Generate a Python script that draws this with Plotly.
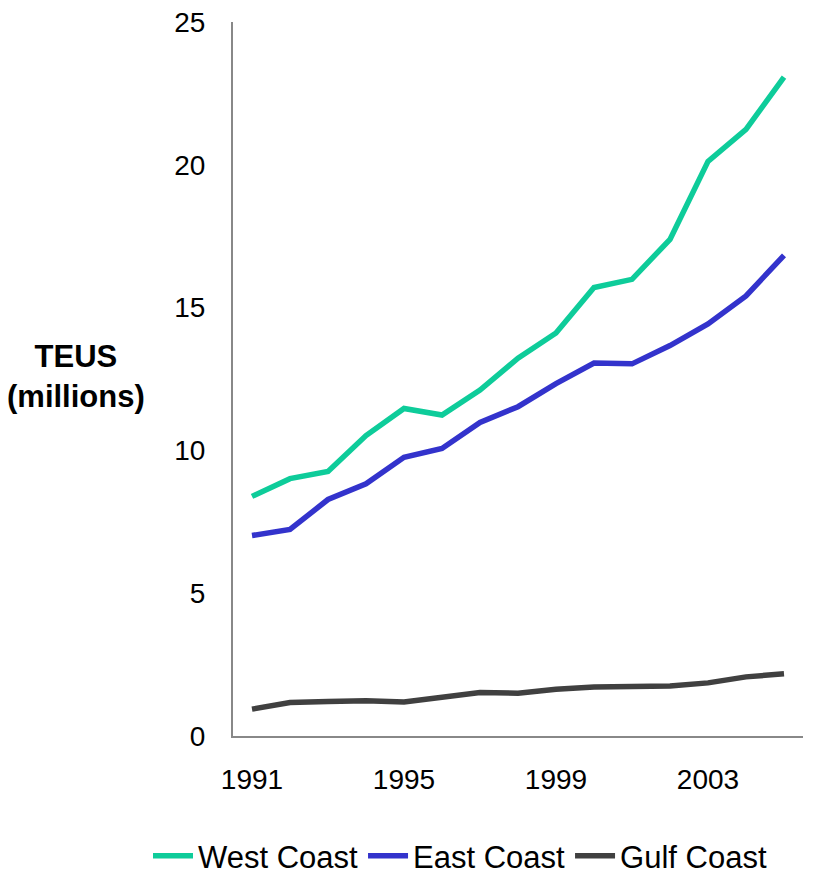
import plotly.graph_objects as go

years = list(range(1991, 2006))
west_coast = [8.39, 9.01, 9.26, 10.52, 11.47, 11.24, 12.11, 13.23, 14.11, 15.70, 15.99, 17.39, 20.12, 21.24, 23.07]
east_coast = [7.02, 7.23, 8.28, 8.83, 9.76, 10.07, 10.98, 11.53, 12.34, 13.06, 13.03, 13.67, 14.43, 15.41, 16.83]
gulf_coast = [0.94, 1.17, 1.21, 1.23, 1.19, 1.37, 1.52, 1.50, 1.64, 1.72, 1.74, 1.75, 1.86, 2.07, 2.18]
x_ticks = [1991, 1995, 1999, 2003]
y_ticks = [0, 5, 10, 15, 20, 25]

series = [("West Coast", west_coast, "#0ecc9a"),
          ("East Coast", east_coast, "#3333cc"),
          ("Gulf Coast", gulf_coast, "#404040")]

fig = go.Figure()
for name, vals, color in series:
    fig.add_trace(go.Scatter(x=years, y=vals, name=name, mode="lines",
                             line=dict(color=color, width=5.5)))

font = "Liberation Sans, Arial, sans-serif"
L, T, W, H = 225, 14, 570, 714
fig.update_layout(
    width=832, height=879,
    margin=dict(l=L, r=832 - L - W, t=T, b=879 - T - H, autoexpand=False),
    plot_bgcolor="white", paper_bgcolor="white",
    font=dict(family=font, size=28, color="black"),
    showlegend=True,
    legend=dict(orientation="h", x=(140 - L) / W, xanchor="left",
                y=(T + H - 848) / H, yanchor="middle",
                font=dict(size=31), itemwidth=40, tracegroupgap=0),
    xaxis=dict(range=[1990.5, 2005.5], tickvals=x_ticks, showgrid=False,
               showline=True, linecolor="#888888", linewidth=2, ticks="",
               ticklabelstandoff=17, zeroline=False, automargin=False,
               ticklabeloverflow="allow"),
    yaxis=dict(range=[0, 25], tickvals=y_ticks, showgrid=False,
               showline=True, linecolor="#888888", linewidth=2, ticks="",
               ticklabelstandoff=20, zeroline=False, automargin=False,
               ticklabeloverflow="allow"),
)
fig.add_annotation(text="<b>TEUS<br>(millions)</b>", xref="paper", yref="paper",
                   x=(68 - L) / W, y=(T + H - 368) / H, showarrow=False,
                   xanchor="center", yanchor="middle", align="center",
                   font=dict(size=31, family=font, color="black"))

fig.write_html("out.html")
